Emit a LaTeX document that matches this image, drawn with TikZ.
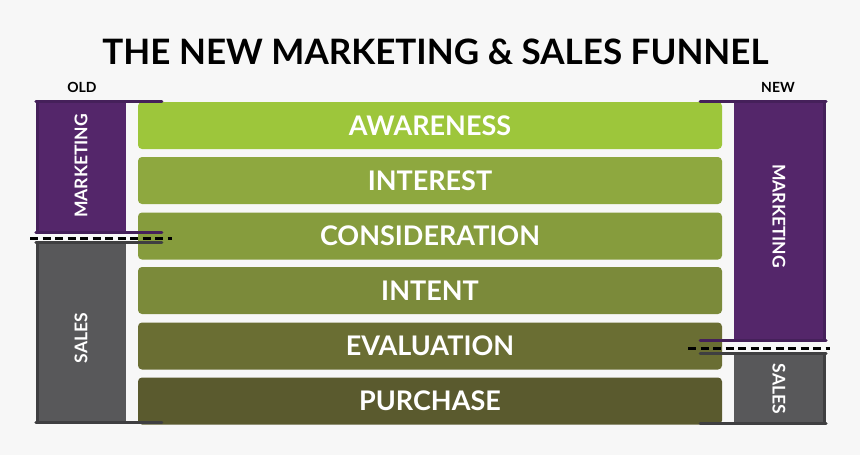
\documentclass[tikz,border=0pt]{standalone}
\usepackage{fontspec}
\setmainfont{Lato}
\begin{document}
\begin{tikzpicture}[x=1pt,y=-1pt,
  bar/.style={rounded corners=4pt, minimum width=584pt, minimum height=47pt, inner sep=0pt, text=white, font=\bfseries\fontsize{27}{27}\selectfont},
  panel/.style={inner sep=0pt, minimum width=90pt, text=white, font=\bfseries\fontsize{17.5}{17.5}\selectfont},
  purplefill/.style={fill=mpurple},
  grayfill/.style={fill=mgray},
  pline/.style={draw=mpurpled, line width=3pt, line cap=round},
  gline/.style={draw=mgrayd, line width=3pt, line cap=round},
  divider/.style={draw=black, line width=3pt, dash pattern=on 8pt off 4.5pt, line cap=butt}
]
\definecolor{bg}{HTML}{F7F7F7}
\definecolor{mpurple}{HTML}{54266A}
\definecolor{mpurpled}{HTML}{45205A}
\definecolor{mgray}{HTML}{58585A}
\definecolor{mgrayd}{HTML}{3F3F41}
\definecolor{g1}{HTML}{9DC63B}
\definecolor{g2}{HTML}{8EA83F}
\definecolor{g3}{HTML}{869C3D}
\definecolor{g4}{HTML}{7B8A3A}
\definecolor{g5}{HTML}{6A6E33}
\definecolor{g6}{HTML}{5A5A2E}
\fill[bg] (0,0) rectangle (860,455);
\useasboundingbox (0,0) rectangle (860,455);

\node[font=\bfseries\fontsize{35}{35}\selectfont] (title) at (435.5,52) {THE NEW MARKETING \& SALES FUNNEL};
\node[font=\bfseries\fontsize{14}{14}\selectfont] (old) at (82,87) {OLD};
\node[font=\bfseries\fontsize{14}{14}\selectfont] (new) at (778,87) {NEW};

% bars
\node[bar, fill=g1] (b1) at (430,125.5) {AWARENESS};
\node[bar, fill=g2] (b2) at (430,180.5) {INTEREST};
\node[bar, fill=g3] (b3) at (430,236) {CONSIDERATION};
\node[bar, fill=g4] (b4) at (430,290.5) {INTENT};
\node[bar, fill=g5] (b5) at (430,346) {EVALUATION};
\node[bar, fill=g6] (b6) at (430,401) {PURCHASE};

% left old panel
\node[panel, purplefill, minimum height=131pt] (lm) at (81,167) {};
\node[panel, rotate=90] (lmt) at (81,166) {MARKETING};
\node[panel, grayfill, minimum height=181pt] (ls) at (81,332.5) {};
\node[panel, rotate=90] (lst) at (81,338) {SALES};
\draw[pline] (lm.north west) ++(0,0.5) -- ++(126,0);
\draw[pline] (lm.south west) ++(0,-0.5) -- ++(126,0);
\draw[pline, line cap=butt] (lm.north west) ++(1.5,0) -- ([xshift=1.5pt]lm.south west);
\draw[gline] (ls.north west) ++(0,0.5) -- ++(126,0);
\draw[gline] (ls.south west) ++(0,-0.5) -- ++(126,0);
\draw[gline, line cap=butt] (ls.north west) ++(1.5,0) -- ([xshift=1.5pt]ls.south west);
\coordinate (ld1) at (30,238);
\coordinate (ld2) at (172,238);
\draw[divider] (ld1) -- (ld2);

% right new panel
\node[panel, purplefill, minimum width=92pt, minimum height=240pt] (rm) at (780,221) {};
\node[panel, rotate=-90] (rmt) at (779,216) {MARKETING};
\node[panel, grayfill, minimum width=92pt, minimum height=71pt] (rs) at (780,388.5) {};
\node[panel, rotate=-90] (rst) at (779,389) {SALES};
\draw[pline] (rm.north east) ++(0,0.5) -- ++(-126,0);
\draw[pline] (rm.south east) ++(0,-0.5) -- ++(-126,0);
\draw[pline, line cap=butt] (rm.north east) ++(-1.5,0) -- ([xshift=-1.5pt]rm.south east);
\draw[gline] (rs.north east) ++(0,0.5) -- ++(-126,0);
\draw[gline] (rs.south east) ++(0,-0.5) -- ++(-126,0);
\draw[gline, line cap=butt] (rs.north east) ++(-1.5,0) -- ([xshift=-1.5pt]rs.south east);
\coordinate (rd1) at (688,348);
\coordinate (rd2) at (830,348);
\draw[divider] (rd1) -- (rd2);
\end{tikzpicture}
\end{document}
